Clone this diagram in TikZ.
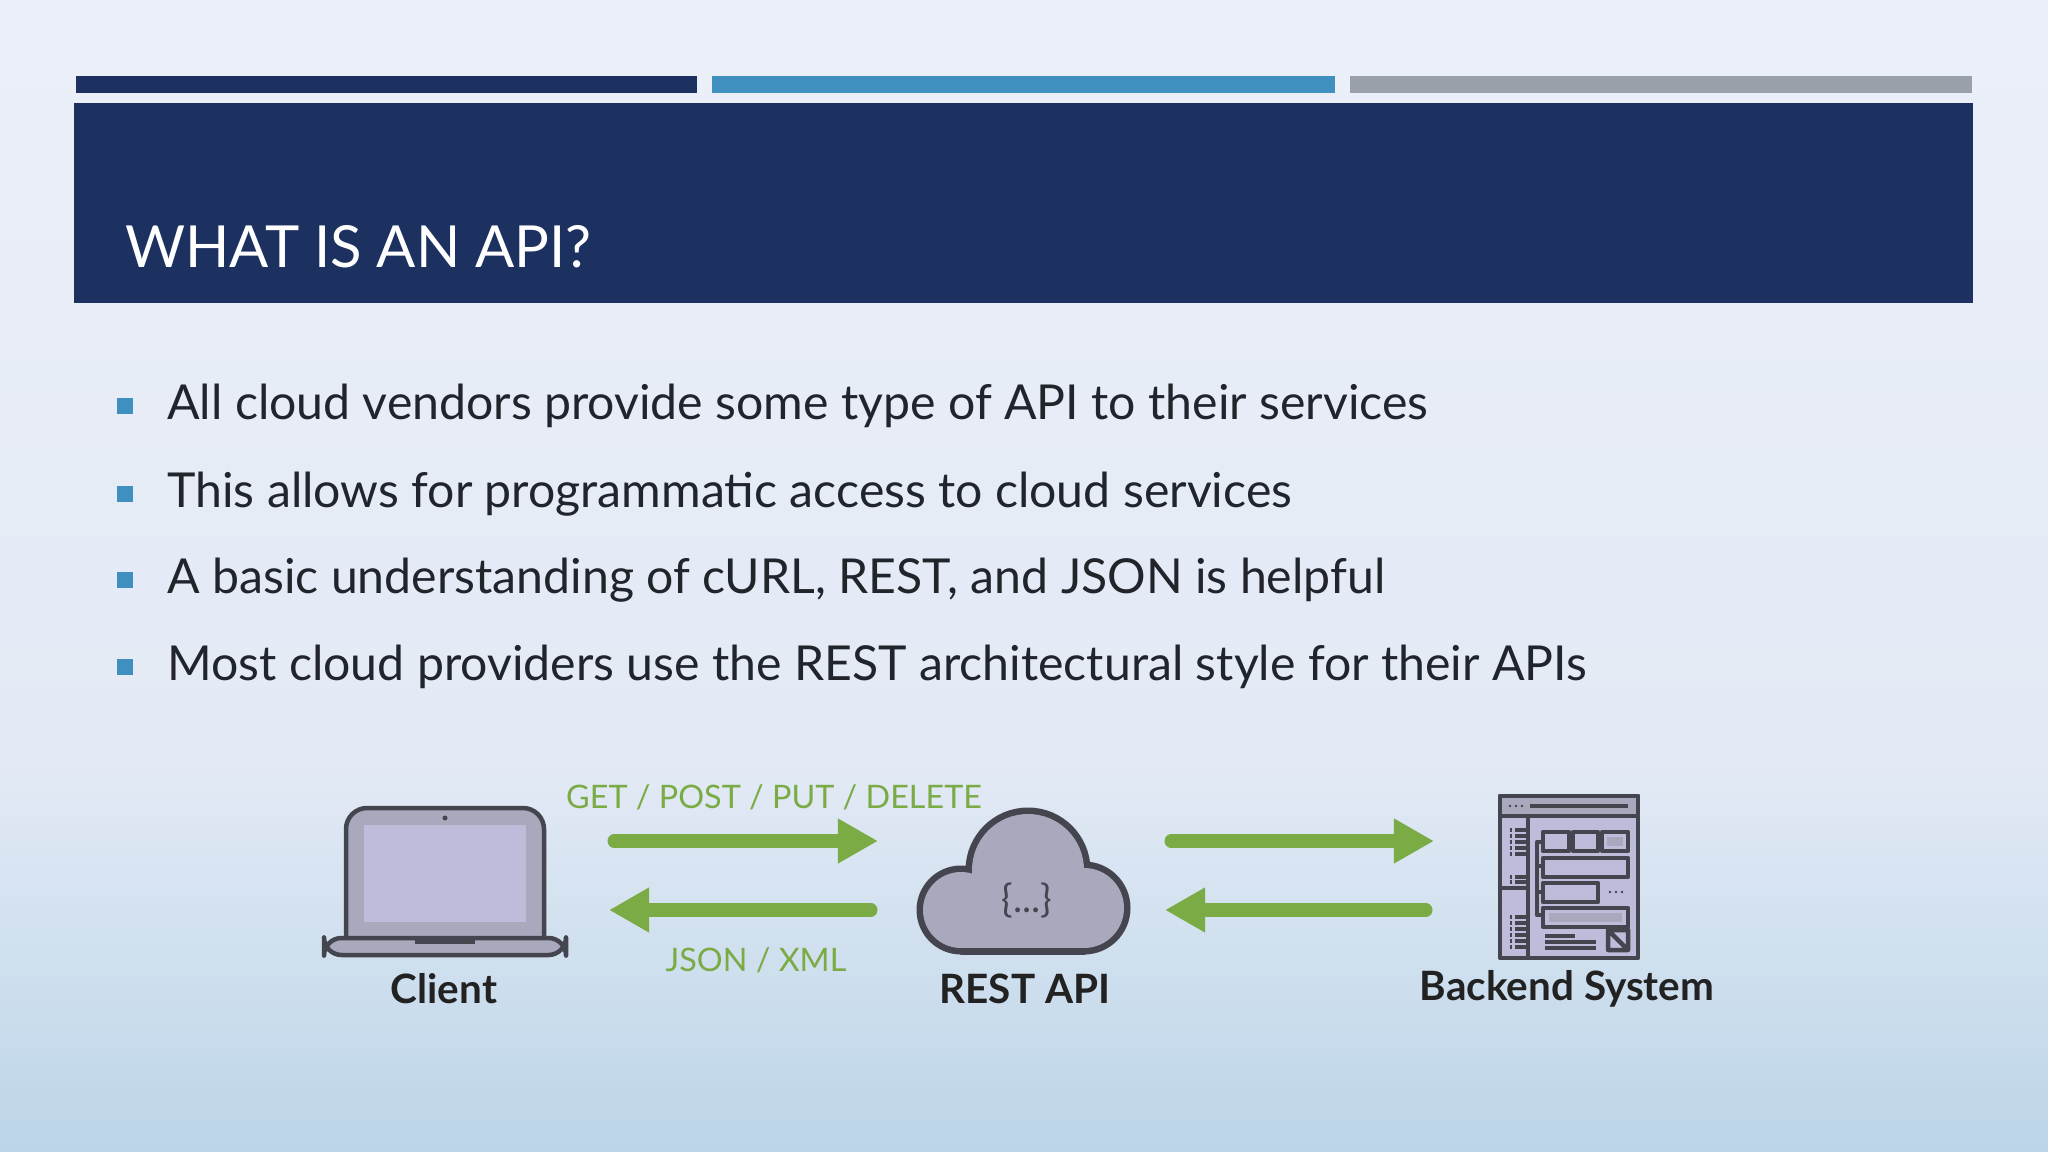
\documentclass[tikz,border=0pt]{standalone}
\usepackage{fontspec}
\setmainfont{Lato}
\usetikzlibrary{arrows.meta,positioning}
\definecolor{navy}{HTML}{1C3160}
\definecolor{midblue}{HTML}{3F8FBF}
\definecolor{barGrey}{HTML}{9AA0A8}
\definecolor{leaf}{HTML}{7AAB45}
\definecolor{iconFill}{HTML}{A9A9BE}
\definecolor{iconLight}{HTML}{BDBCDB}
\definecolor{iconLine}{HTML}{45454F}
\definecolor{labelInk}{HTML}{222222}
\definecolor{bgTop}{HTML}{F2F3FB}
\definecolor{bgMid}{HTML}{E3EAF5}
\definecolor{bgBand}{HTML}{BCD5E8}
\definecolor{bgLow}{HTML}{A8BEE6}
\pgfdeclareverticalshading{slide}{100bp}{
  color(0bp)=(bgLow); color(25bp)=(bgBand); color(42bp)=(bgMid); color(100bp)=(bgTop)}
\tikzset{
  bullet/.style={fill=midblue, minimum size=0.15cm, inner sep=0pt},
  point/.style={anchor=west, font=\fontsize{13.7}{16}\selectfont, text=labelInk!85!navy},
  flow/.style={draw=leaf, line width=0.13cm, line cap=round, -{Triangle[length=0.4cm,width=0.42cm]}},
  flowtext/.style={text=leaf, font=\fontsize{9.2}{11}\selectfont},
  iconlabel/.style={font=\bfseries\fontsize{11.5}{13}\selectfont, text=labelInk},
  icon/.style={draw=iconLine, line width=0.045cm, line join=round}
}
\begin{document}
\begin{tikzpicture}[x=0.01cm, y=-0.01cm]
  \useasboundingbox (0,0) rectangle (2048,1152);
  % background
  \shade[shading=slide] (0,0) rectangle (2048,1152);
  % header bars
  \fill[navy] (76,76) rectangle (697,93);
  \fill[midblue] (712,76) rectangle (1335,93);
  \fill[barGrey] (1350,76) rectangle (1972,93);
  \fill[navy] (74,103) rectangle (1973,303);
  \node[anchor=base west, text=white, font=\fontsize{16.5}{20}\selectfont] (title) at (113,268) {WHAT IS AN API?};
  % bullets
  \foreach \y/\txt [count=\i] in {406/All cloud vendors provide some type of API to their services,
      494/This allows for programmatic access to cloud services,
      580/{A basic understanding of cURL, REST, and JSON is helpful},
      667/Most cloud providers use the REST architectural style for their APIs} {
    \node[bullet] (b\i) at (125,\y) {};
    \node[point] (p\i) at (155,\y) {\txt};
  }
  % client laptop
  \draw[icon, fill=iconFill, rounded corners=6] (346,938) -- (346,808) -- (544,808) -- (544,938);
  \fill[iconLight] (364,825) rectangle (526,922);
  \fill[iconLine] (445,818) circle (2.5);
  \draw[icon, fill=iconFill, rounded corners=5] (324,938) rectangle (566,955);
  \fill[iconLine] (415,938) rectangle (475,944);
  \node[iconlabel] (client) at (444,989) {Client};
  % cloud
  \foreach \cx/\cy/\r in {961/910/40, 1084/908/42, 1028/870/58}
    \draw[icon, line width=0.09cm, fill=iconFill] (\cx,\cy) circle (\r);
  \draw[icon, line width=0.09cm, fill=iconFill] (961,905) rectangle (1084,950);
  \foreach \cx/\cy/\r in {961/910/38, 1084/908/40, 1028/870/56}
    \fill[iconFill] (\cx,\cy) circle (\r);
  \fill[iconFill] (961,903) rectangle (1084,948);
  \node[text=iconLine, font=\fontsize{11}{12}\selectfont] (braces) at (1027,900) {\{...\}};
  \node[iconlabel] (rest) at (1025,989) {REST API};
  % backend system
  \draw[icon, fill=iconLight] (1500,796) rectangle (1638,958);
  \draw[icon, fill=iconFill] (1500,796) rectangle (1638,816);
  \draw[iconLine, line width=0.04cm] (1530,806) -- (1628,806);
  \foreach \dx in {1510,1516,1522} \fill[iconLine] (\dx,806) circle (1.3);
  \draw[icon] (1528,816) -- (1528,958) (1500,888) -- (1528,888);
  \foreach \yy in {830,836,842,848,854,877,882,917,923,929,935,941,947}
    \draw[iconLine, line width=0.035cm] (1510,\yy) -- (1512,\yy) (1515,\yy) -- (1526,\yy);
  \draw[icon] (1543,842) -- (1537,842) -- (1537,915) -- (1543,915) (1537,866) -- (1543,866) (1537,892) -- (1543,892);
  \draw[icon] (1543,832) rectangle (1569,851) (1573,832) rectangle (1598,851) (1602,832) rectangle (1628,851);
  \fill[iconFill] (1607,837) rectangle (1623,846);
  \draw[icon] (1543,858) rectangle (1628,877);
  \draw[icon] (1543,883) rectangle (1598,902);
  \foreach \dx in {1610,1616,1622} \fill[iconLine] (\dx,892) circle (1.4);
  \draw[icon] (1543,908) rectangle (1628,927);
  \fill[iconFill] (1549,913) rectangle (1622,922);
  \draw[iconLine, line width=0.035cm] (1545,936) -- (1575,936) (1545,942) -- (1596,942) (1545,948) -- (1596,948);
  \draw[icon] (1608,930) rectangle (1628,950) (1608,930) -- (1628,950);
  \node[iconlabel] (backend) at (1567,989) {Backend System};
  % connectors
  \coordinate (reqA) at (614,841); \coordinate (reqB) at (878,841);
  \coordinate (resA) at (871,910); \coordinate (resB) at (609,910);
  \coordinate (fwdA) at (1171,841); \coordinate (fwdB) at (1434,841);
  \coordinate (retA) at (1426,910); \coordinate (retB) at (1165,910);
  \draw[flow] (reqA) -- (reqB);
  \draw[flow] (resA) -- (resB);
  \draw[flow] (fwdA) -- (fwdB);
  \draw[flow] (retA) -- (retB);
  \node[flowtext] (verbs) at (774,797) {GET / POST / PUT / DELETE};
  \node[flowtext] (formats) at (756,960) {JSON / XML};
\end{tikzpicture}
\end{document}
